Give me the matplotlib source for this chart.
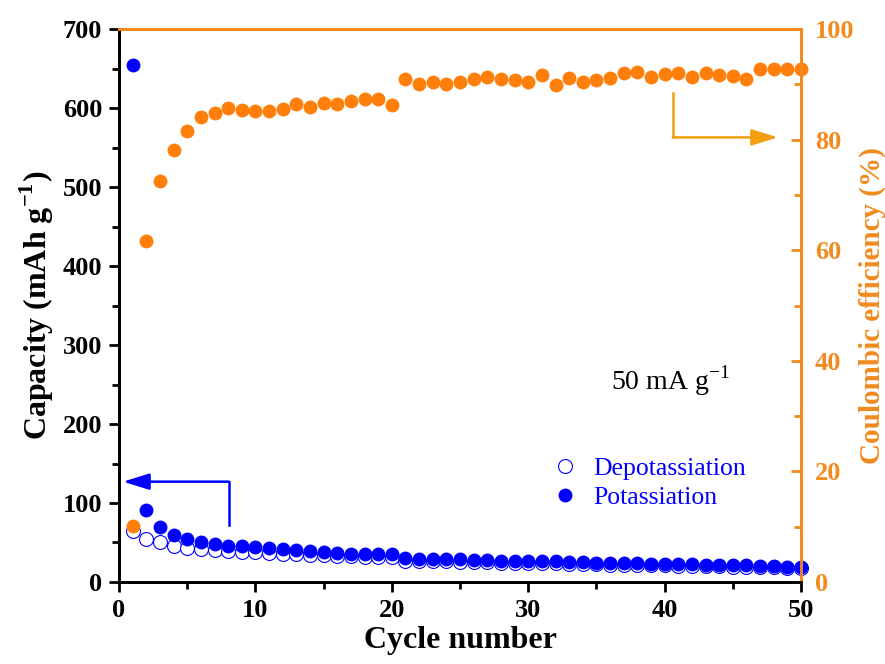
import matplotlib
matplotlib.use("Agg")
import matplotlib.pyplot as plt
from matplotlib.ticker import MultipleLocator

plt.rcParams["font.family"] = ["Liberation Serif", "DejaVu Serif"]
plt.rcParams["mathtext.fontset"] = "custom"
plt.rcParams["mathtext.rm"] = "Liberation Serif"
plt.rcParams["mathtext.bf"] = "Liberation Serif:bold"

BLUE = "#0000FF"
ORANGE = "#FF7F0A"
AXIS_OR = "#F28A1E"
ARROW_OR = "#F0A010"

cycles = list(range(1, 51))
potassiation = [655, 91, 69, 60, 54, 50, 47.5, 45, 45.5, 44.5,
                43.5, 41.5, 40.5, 39, 37.5, 36.5, 36, 35.5, 35.5, 35,
                30, 29.5, 29, 29, 28.5, 28, 27.5, 27, 27, 26.5,
                26.5, 26, 25.5, 25, 24.5, 24, 24, 23.5, 23, 23,
                22.5, 22.5, 22, 22, 21.5, 21, 20.5, 20, 19.5, 19]
depotassiation = [65, 55, 50, 46, 43.5, 41.5, 40, 39, 38.5, 38,
                  37, 36, 35.5, 34.5, 34, 33, 32.5, 32, 32, 31.5,
                  27, 26.5, 26, 26, 25.5, 25.5, 25, 24.5, 24.5, 24,
                  24, 23.5, 23, 23, 22.5, 22, 22, 21.5, 21, 21,
                  20.5, 20.5, 20, 20, 19.5, 19, 19, 18.5, 18, 17.5]
efficiency = [10.1, 61.7, 72.6, 78.2, 81.6, 84.0, 84.8, 85.8, 85.4, 85.1,
              85.1, 85.5, 86.4, 85.9, 86.6, 86.5, 87.0, 87.3, 87.3, 86.2,
              90.9, 90.1, 90.4, 90.1, 90.4, 91.0, 91.3, 91.0, 90.8, 90.5,
              91.6, 89.8, 91.2, 90.4, 90.8, 91.1, 92.1, 92.2, 91.4, 91.9,
              92.0, 91.4, 92.1, 91.7, 91.5, 91.0, 92.8, 92.8, 92.8, 92.8]

fig = plt.figure(figsize=(8.85, 6.64), dpi=100)
ax = fig.add_axes([0.1345, 0.1235, 0.7706, 0.8328])
ax2 = ax.twinx()

ax.plot(cycles, depotassiation, "o", ms=10, mfc="white", mec=BLUE, mew=0.8,
        label="Depotassiation", zorder=3, clip_on=False)
ax.plot(cycles, potassiation, "o", ms=10, color=BLUE, mec="none",
        label="Potassiation", zorder=4, clip_on=False)
ax2.plot(cycles, efficiency, "o", ms=10, color=ORANGE, mec="none", clip_on=False)

ax.set_xlim(0, 50)
ax.set_ylim(0, 700)
ax2.set_ylim(0, 100)

ax.xaxis.set_major_locator(MultipleLocator(10))
ax.xaxis.set_minor_locator(MultipleLocator(5))
ax.yaxis.set_major_locator(MultipleLocator(100))
ax.yaxis.set_minor_locator(MultipleLocator(50))
ax2.yaxis.set_major_locator(MultipleLocator(20))
ax2.yaxis.set_minor_locator(MultipleLocator(10))

for a in (ax, ax2):
    a.spines["top"].set_color(AXIS_OR)
    a.spines["right"].set_color(AXIS_OR)
    a.spines["left"].set_color("black")
    a.spines["bottom"].set_color("black")
    for s in a.spines.values():
        s.set_linewidth(2)

ax.tick_params(axis="both", which="major", direction="out", length=7, width=2,
               labelsize=19, top=False, right=False, pad=5)
ax.tick_params(axis="both", which="minor", direction="out", length=5, width=2,
               top=False, right=False)
ax2.tick_params(axis="y", which="major", direction="in", length=7, width=2,
                colors=AXIS_OR, labelsize=19, pad=10)
ax2.tick_params(axis="y", which="minor", direction="in", length=5, width=2,
                colors=AXIS_OR)
for lab in ax.get_xticklabels() + ax.get_yticklabels() + ax2.get_yticklabels():
    lab.set_fontweight("bold")

ax.set_xlabel("Cycle number", fontsize=23, fontweight="bold", labelpad=3)
ax.set_ylabel(r"Capacity (mAh g$^{\mathbf{-1}}$)", fontsize=23, fontweight="bold",
              labelpad=5)
ax2.set_ylabel("Coulombic efficiency (%)", fontsize=21, fontweight="bold",
               color=AXIS_OR, labelpad=3)

ax.text(36.1, 255, r"50 mA g$^{-1}$", fontsize=20, va="center", ha="left")

leg = ax.legend(loc="lower left", bbox_to_anchor=(0.597, 0.09), frameon=False,
                fontsize=18.5, handletextpad=0.5, labelspacing=0.25, handlelength=1.2)
for t in leg.get_texts():
    t.set_color(BLUE)

# blue arrow pointing to left axis
ax.plot([8.06, 8.06], [72, 127], color=BLUE, lw=1.8, zorder=2)
ax.annotate("", xy=(0.3, 127), xytext=(8.06, 127),
            arrowprops=dict(arrowstyle="-|>,head_length=1.6,head_width=0.5",
                            color=BLUE, lw=1.8, shrinkA=0, shrinkB=0))

# orange arrow pointing to right axis
ax2.plot([40.6, 40.6], [88.4, 80.4], color=ARROW_OR, lw=1.8, zorder=2)
ax2.annotate("", xy=(48.3, 80.4), xytext=(40.6, 80.4),
             arrowprops=dict(arrowstyle="-|>,head_length=1.6,head_width=0.5",
                             color=ARROW_OR, lw=1.8, shrinkA=0, shrinkB=0))

fig.savefig("out.png", dpi=100)
